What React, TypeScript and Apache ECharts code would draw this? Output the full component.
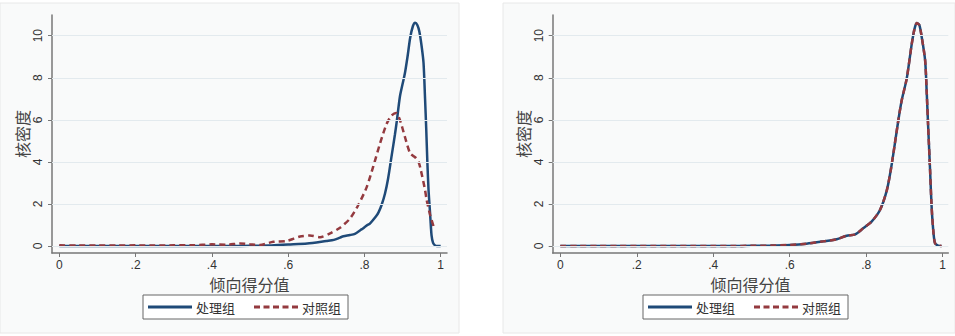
import React, { useEffect, useRef } from "react";
import * as echarts from "echarts";

// ---- Data ----
const xTicks = [0, 0.2, 0.4, 0.6, 0.8, 1];
const yTicks = [0, 2, 4, 6, 8, 10];

// Before matching: treated group (solid blue)
const treatedX = [0, 0.05, 0.1, 0.15, 0.2, 0.25, 0.3, 0.35, 0.4, 0.45, 0.5, 0.55, 0.6, 0.65, 0.7, 0.72, 0.736, 0.745, 0.762, 0.775, 0.79, 0.797, 0.806, 0.815, 0.83, 0.837, 0.845, 0.854, 0.862, 0.871, 0.88, 0.885, 0.893, 0.9, 0.906, 0.913, 0.92, 0.927, 0.933, 0.939, 0.944, 0.95, 0.955, 0.959, 0.962, 0.965, 0.968, 0.972, 0.976, 0.98, 0.985, 0.99, 1.0];
const treatedY = [0.0, 0.0, 0.0, 0.0, 0.0, 0.0, 0.0, 0.0, 0.0, 0.0, 0.01, 0.02, 0.07, 0.12, 0.24, 0.29, 0.4, 0.46, 0.52, 0.58, 0.76, 0.84, 0.98, 1.08, 1.4, 1.6, 1.95, 2.5, 3.2, 4.25, 5.3, 5.95, 7.1, 7.7, 8.2, 9.0, 9.9, 10.45, 10.62, 10.5, 10.2, 9.5, 8.7, 7.0, 5.6, 4.0, 2.7, 1.6, 0.5, 0.15, 0.03, 0.0, 0.0];

// Before matching: control group (dashed red)
const controlX = [0, 0.05, 0.1, 0.15, 0.2, 0.25, 0.3, 0.35, 0.4, 0.44, 0.474, 0.5, 0.526, 0.561, 0.596, 0.615, 0.631, 0.657, 0.684, 0.71, 0.736, 0.762, 0.784, 0.806, 0.823, 0.841, 0.858, 0.871, 0.883, 0.893, 0.906, 0.92, 0.933, 0.942, 0.948, 0.959, 0.963, 0.972, 0.981];
const controlY = [0.03, 0.02, 0.03, 0.02, 0.03, 0.02, 0.03, 0.03, 0.08, 0.06, 0.12, 0.08, 0.05, 0.2, 0.24, 0.35, 0.45, 0.5, 0.42, 0.6, 0.87, 1.3, 1.95, 2.8, 3.77, 4.88, 5.8, 6.2, 6.33, 6.0, 5.2, 4.4, 4.22, 4.0, 3.6, 2.66, 2.2, 1.5, 0.95];

// After matching: both groups (curves overlap)
const matchedX = [0, 0.05, 0.1, 0.15, 0.2, 0.25, 0.3, 0.35, 0.4, 0.45, 0.5, 0.55, 0.6, 0.644, 0.688, 0.723, 0.749, 0.771, 0.792, 0.814, 0.836, 0.854, 0.865, 0.875, 0.885, 0.893, 0.906, 0.919, 0.926, 0.932, 0.939, 0.945, 0.954, 0.958, 0.962, 0.967, 0.971, 0.976, 0.98, 0.988, 0.997];
const matchedTreatedY = [0.0, 0.0, 0.0, 0.0, 0.0, 0.0, 0.0, 0.0, 0.0, 0.0, 0.01, 0.02, 0.05, 0.11, 0.22, 0.32, 0.49, 0.55, 0.84, 1.16, 1.71, 2.66, 3.7, 4.88, 6.1, 6.94, 7.97, 9.6, 10.3, 10.6, 10.5, 9.95, 8.84, 7.4, 5.67, 3.6, 1.87, 0.6, 0.13, 0.02, 0.0];
const matchedControlY = [0.0, 0.0, 0.0, 0.0, 0.0, 0.0, 0.0, 0.0, 0.0, 0.0, 0.01, 0.02, 0.05, 0.11, 0.22, 0.32, 0.49, 0.55, 0.84, 1.16, 1.71, 2.66, 3.7, 4.88, 6.1, 6.94, 7.97, 9.6, 10.3, 10.6, 10.5, 9.95, 8.84, 7.4, 5.67, 3.6, 1.87, 0.6, 0.13, 0.02, 0.0];

const treatedName = "处理组";
const controlName = "对照组";
const xTitle = "倾向得分值";
const yTitle = "核密度";

const BLUE = "#1f4a78";
const RED = "#943a3f";
const CJK = '"Noto Sans CJK SC", "Noto Sans", sans-serif';
const SANS = '"Liberation Sans", Arial, sans-serif';

const SOLID_ICON = "path://M0,0h44v3h-44z";
const DASH_ICON = "path://M0,0h6v3h-6z M9.5,0h6v3h-6z M19,0h6v3h-6z M28.5,0h6v3h-6z M38,0h6v3h-6z";

const zip = (xs: number[], ys: number[]) => xs.map((x, i) => [x, ys[i]]);

export default function App() {
  const ref = useRef<HTMLDivElement>(null);
  useEffect(() => {
    document.body.style.margin = "0";
    const chart = echarts.init(ref.current!, undefined, { renderer: "svg" });

    const panels = [
      { left: 52, right: 447, x0: 59.3, x1: 440.7 },
      { left: 552.7, right: 948.3, x0: 560.3, x1: 942.7 },
    ];
    const top = 15;
    const bottom = 253;
    const y0 = 246;
    const y10 = 35.7;
    const perY = (y0 - y10) / 10;

    const grids = panels.map((p) => ({
      left: p.left,
      top,
      width: p.right - p.left,
      height: bottom - top,
      show: false,
    }));

    const xAxes = panels.map((p, i) => {
      const per = p.x1 - p.x0;
      return {
        type: "value",
        gridIndex: i,
        min: -(p.x0 - p.left) / per,
        max: 1 + (p.right - p.x1) / per,
        name: xTitle,
        nameLocation: "middle",
        nameGap: 19,
        nameTextStyle: { fontFamily: CJK, fontSize: 16, color: "#444", verticalAlign: "top" },
        axisLine: { show: true, onZero: false, lineStyle: { color: "#777", width: 1.5 } },
        axisTick: { show: true, length: 4, customValues: xTicks, lineStyle: { color: "#777" } },
        axisLabel: {
          customValues: xTicks,
          margin: 6,
          fontFamily: SANS,
          fontSize: 12,
          color: "#333",
          formatter: (v: number) => (v === 0 ? "0" : v === 1 ? "1" : String(v).replace(/^0/, "")),
        },
        splitLine: { show: false },
      };
    });

    const yAxes = panels.map((_, i) => ({
      type: "value",
      gridIndex: i,
      min: -(bottom - y0) / perY,
      max: (y0 - top) / perY,
      name: yTitle,
      nameLocation: "middle",
      nameRotate: 90,
      nameGap: 22,
      nameTextStyle: { fontFamily: CJK, fontSize: 16, color: "#444" },
      axisLine: { show: true, onZero: false, lineStyle: { color: "#777", width: 1.5 } },
      axisTick: { show: true, length: 4, customValues: yTicks, lineStyle: { color: "#777" } },
      axisLabel: {
        customValues: yTicks,
        rotate: 90,
        margin: 8,
        fontFamily: SANS,
        fontSize: 12,
        color: "#333",
      },
      splitLine: { show: false },
    }));

    const gridMark = {
      silent: true,
      symbol: "none",
      label: { show: false },
      lineStyle: { color: "#e3eaee", width: 1, type: "solid" },
      data: yTicks.map((v) => ({ yAxis: v })),
    };

    const lineBase = { type: "line", showSymbol: false, symbol: "none", smooth: 0.25, z: 3 };

    const series: any[] = [
      {
        ...lineBase,
        name: treatedName,
        xAxisIndex: 0,
        yAxisIndex: 0,
        data: zip(treatedX, treatedY),
        lineStyle: { color: BLUE, width: 2.5 },
        itemStyle: { color: BLUE },
        markLine: gridMark,
      },
      {
        ...lineBase,
        name: controlName,
        xAxisIndex: 0,
        yAxisIndex: 0,
        data: zip(controlX, controlY),
        lineStyle: { color: RED, width: 2.5, type: [6, 4] },
        itemStyle: { color: RED },
      },
      {
        ...lineBase,
        name: treatedName,
        xAxisIndex: 1,
        yAxisIndex: 1,
        data: zip(matchedX, matchedTreatedY),
        lineStyle: { color: BLUE, width: 2.5 },
        itemStyle: { color: BLUE },
        markLine: gridMark,
      },
      {
        ...lineBase,
        name: controlName,
        xAxisIndex: 1,
        yAxisIndex: 1,
        z: 4,
        data: zip(matchedX, matchedControlY),
        lineStyle: { color: RED, width: 2.5, type: [6, 4] },
        itemStyle: { color: RED },
      },
    ];

    const legendBase = {
      top: 295,
      orient: "horizontal",
      data: [
        { name: treatedName, icon: SOLID_ICON, itemStyle: { color: BLUE, borderWidth: 0 } },
        { name: controlName, icon: DASH_ICON, itemStyle: { color: RED, borderWidth: 0 } },
      ],
      itemWidth: 44,
      itemHeight: 3,
      itemGap: 19,
      itemStyle: { borderWidth: 0 },
      lineStyle: { width: 0, opacity: 0 },
      padding: [4, 7, 4, 5],
      borderColor: "#666",
      borderWidth: 1,
      backgroundColor: "#fff",
      textStyle: { fontFamily: CJK, fontSize: 13, color: "#333", lineHeight: 16, padding: [0, 0, 0, -1] },
      selectedMode: false,
    };

    chart.setOption({
      animation: false,
      backgroundColor: "#ffffff",
      graphic: [
        { type: "rect", silent: true, z: -10, shape: { x: 0, y: 3, width: 459, height: 330 }, style: { fill: "#f9fafa", stroke: "#e8e8e8", lineWidth: 1 } },
        { type: "rect", silent: true, z: -10, shape: { x: 503, y: 3, width: 452, height: 330 }, style: { fill: "#f9fafa", stroke: "#e8e8e8", lineWidth: 1 } },
      ],
      grid: grids,
      xAxis: xAxes,
      yAxis: yAxes,
      legend: [
        { ...legendBase, left: 143 },
        { ...legendBase, left: 643 },
      ],
      series,
    } as any);

    return () => chart.dispose();
  }, []);

  return (
    <div
      ref={ref}
      style={{ position: "absolute", left: 0, top: 0, width: 955, height: 336 }}
    />
  );
}
